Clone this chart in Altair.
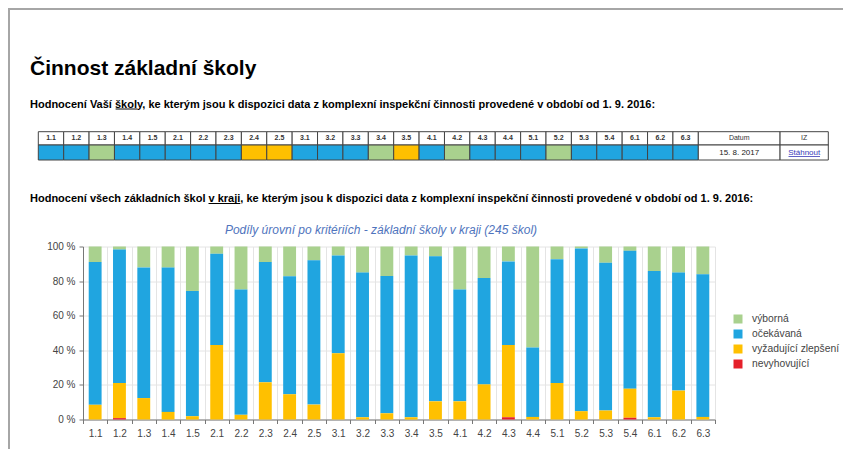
import altair as alt
import pandas as pd

# ---------------- data ----------------
criteria = ["1.1", "1.2", "1.3", "1.4", "1.5", "2.1", "2.2", "2.3", "2.4", "2.5",
            "3.1", "3.2", "3.3", "3.4", "3.5", "4.1", "4.2", "4.3", "4.4",
            "5.1", "5.2", "5.3", "5.4", "6.1", "6.2", "6.3"]
levels = ["výborná", "očekávaná", "vyžadující zlepšení", "nevyhovující"]
level_colors = ["#a9d18e", "#20a5e0", "#ffc000", "#e5202a"]
stack_rank = [3, 2, 1, 0]

school_rating = ["očekávaná", "očekávaná", "výborná", "očekávaná", "očekávaná",
                 "očekávaná", "očekávaná", "očekávaná", "vyžadující zlepšení", "vyžadující zlepšení",
                 "očekávaná", "očekávaná", "očekávaná", "výborná", "vyžadující zlepšení",
                 "očekávaná", "výborná", "očekávaná", "očekávaná",
                 "očekávaná", "výborná", "očekávaná", "očekávaná",
                 "očekávaná", "očekávaná", "očekávaná"]

pct_vyborna = [9.0, 1.8, 12.1, 12.2, 25.7, 4.2, 24.9, 9.0, 17.2, 8.0, 5.2, 15.1, 17.1,
               5.2, 5.7, 24.9, 18.2, 8.6, 58.4, 7.3, 1.1, 9.4, 2.5, 14.2, 15.1, 16.1]
pct_ocekavana = [82.5, 77.1, 75.5, 83.4, 72.4, 52.7, 72.4, 69.5, 68.2, 83.4, 56.5, 83.6, 79.3,
                 93.5, 83.8, 64.6, 61.5, 48.3, 40.1, 71.6, 94.1, 85.4, 79.7, 84.5, 68.2, 82.4]
pct_vyzadujici = [8.5, 20.3, 12.4, 4.4, 1.9, 43.1, 2.7, 21.5, 14.6, 8.6, 38.3, 1.3, 3.6,
                  1.3, 10.5, 10.5, 20.3, 41.8, 1.5, 21.1, 4.8, 5.2, 16.8, 1.3, 16.7, 1.5]
pct_nevyhovujici = [0, 0.8, 0, 0, 0, 0, 0, 0, 0, 0, 0, 0, 0,
                    0, 0, 0, 0, 1.3, 0, 0, 0, 0, 1.0, 0, 0, 0]

page_title = "Činnost základní školy"
school_heading = ("Hodnocení Vaší školy, ke kterým jsou k dispozici data z komplexní "
                  "inspekční činnosti provedené v období od 1. 9. 2016:")
region_heading = ("Hodnocení všech základních škol v kraji, ke kterým jsou k dispozici data "
                  "z komplexní inspekční činnosti provedené v období od 1. 9. 2016:")
chart_title = "Podíly úrovní po kritériích - základní školy v kraji (245 škol)"
date_label = "Datum"
date_value = "15. 8. 2017"
iz_label = "IZ"
iz_value = "Stáhnout"

# ---------------- layout helpers (page px -> view px) ----------------
def P(x):
    return x - 83


def Q(y):
    return y - 246.5


FONT = "Liberation Sans"
color_scale = alt.Scale(domain=levels, range=level_colors)

# ---------------- tables ----------------
series = [pct_vyborna, pct_ocekavana, pct_vyzadujici, pct_nevyhovujici]
bar_rows = []
for i, c in enumerate(criteria):
    for lvl, arr, rk in zip(levels, series, stack_rank):
        bar_rows.append({"criterion": c, "level": lvl, "value": arr[i], "rank": rk})
bar_df = pd.DataFrame(bar_rows)

DATUM_W = 3.22
IZ_W = 1.9
n = len(criteria)
crit_df = pd.DataFrame({
    "col": criteria,
    "level": school_rating,
    "x0": [i for i in range(n)],
    "x1": [i + 1 for i in range(n)],
})
crit_df["xm"] = (crit_df["x0"] + crit_df["x1"]) / 2
extra_df = pd.DataFrame({
    "col": [date_label, iz_label],
    "val": [date_value, iz_value],
    "x0": [n, n + DATUM_W],
    "x1": [n + DATUM_W, n + DATUM_W + IZ_W],
})
extra_df["xm"] = (extra_df["x0"] + extra_df["x1"]) / 2
TOTAL = n + DATUM_W + IZ_W
tscale = alt.Scale(domain=[0, TOTAL], range=[P(38.3), P(828.3)], nice=False, zero=False)

legend_df = pd.DataFrame({"level": levels})
one = pd.DataFrame({"d": [0]})


def text_layer(s, x, y, **kw):
    return alt.Chart(pd.DataFrame({"t": [s]})).mark_text(
        font=FONT, align="left", baseline="alphabetic", **kw
    ).encode(x=alt.value(x), y=alt.value(y), text="t:N")


# frame
frame_top = alt.Chart(one).mark_rule(color="#a6a6a6", strokeWidth=2).encode(
    x=alt.value(P(8)), x2=alt.value(P(851)), y=alt.value(Q(9)))
frame_left = alt.Chart(one).mark_rule(color="#a6a6a6", strokeWidth=2).encode(
    x=alt.value(P(9)), y=alt.value(Q(8)), y2=alt.value(Q(457)))

t_title = text_layer(page_title, P(30), Q(75), fontSize=21, fontWeight="bold", color="#000000")
t_school = text_layer(school_heading, P(30), Q(107.5), fontSize=11, fontWeight="bold", color="#000000")
t_region = text_layer(region_heading, P(30), Q(202), fontSize=11, fontWeight="bold", color="#000000")

ul_school = alt.Chart(one).mark_rule(color="#000000", strokeWidth=1).encode(
    x=alt.value(P(115.6)), x2=alt.value(P(137.6)), y=alt.value(Q(109)))
ul_region = alt.Chart(one).mark_rule(color="#000000", strokeWidth=1).encode(
    x=alt.value(P(208.5)), x2=alt.value(P(240.3)), y=alt.value(Q(203.5)))

# table
ROW0, ROW1, ROW2 = Q(131.7), Q(145), Q(160)
head_cells = alt.Chart(pd.concat([crit_df, extra_df])).mark_rect(
    fill="white", stroke="#444444", strokeWidth=1).encode(
    x=alt.X("x0:Q", scale=tscale, axis=None), x2="x1:Q",
    y=alt.value(ROW0), y2=alt.value(ROW1))
head_text_crit = alt.Chart(crit_df).mark_text(
    font=FONT, fontSize=7, fontWeight="bold", color="#333333", baseline="middle").encode(
    x=alt.X("xm:Q", scale=tscale, axis=None), y=alt.value((ROW0 + ROW1) / 2), text="col:N")
head_text_extra = alt.Chart(extra_df).mark_text(
    font=FONT, fontSize=7, color="#333333", baseline="middle").encode(
    x=alt.X("xm:Q", scale=tscale, axis=None), y=alt.value((ROW0 + ROW1) / 2), text="col:N")
data_cells = alt.Chart(crit_df).mark_rect(stroke="#444444", strokeWidth=1).encode(
    x=alt.X("x0:Q", scale=tscale, axis=None), x2="x1:Q",
    y=alt.value(ROW1), y2=alt.value(ROW2),
    color=alt.Color("level:N", scale=color_scale, legend=None))
data_cells_extra = alt.Chart(extra_df).mark_rect(
    fill="white", stroke="#444444", strokeWidth=1).encode(
    x=alt.X("x0:Q", scale=tscale, axis=None), x2="x1:Q",
    y=alt.value(ROW1), y2=alt.value(ROW2))
date_text = alt.Chart(extra_df.iloc[[0]]).mark_text(
    font=FONT, fontSize=8, color="#222222", baseline="middle").encode(
    x=alt.X("xm:Q", scale=tscale, axis=None), y=alt.value((ROW1 + ROW2) / 2), text="val:N")
iz_text = alt.Chart(extra_df.iloc[[1]]).mark_text(
    font=FONT, fontSize=8, color="#3a3ab8", baseline="middle").encode(
    x=alt.X("xm:Q", scale=tscale, axis=None), y=alt.value((ROW1 + ROW2) / 2), text="val:N")
iz_ul = alt.Chart(one).mark_rule(color="#3a3ab8", strokeWidth=0.8).encode(
    x=alt.value(P(788.5)), x2=alt.value(P(820)), y=alt.value(Q(156.5)))

# bar chart
bars = alt.Chart(bar_df).mark_bar(width=alt.RelativeBandSize(0.53)).encode(
    x=alt.X("criterion:N", sort=criteria,
            scale=alt.Scale(domain=criteria, paddingInner=0, paddingOuter=0),
            axis=alt.Axis(title=None, labelAngle=0, tickBand="extent", grid=True,
                          gridColor="#e4e4e4", domainColor="#777777", tickColor="#777777",
                          tickSize=4, labelFontSize=10, labelColor="#444444",
                          labelPadding=5, labelFont=FONT)),
    y=alt.Y("value:Q", stack="normalize",
            scale=alt.Scale(domain=[0, 1], nice=False),
            axis=alt.Axis(title=None, values=[0, 0.2, 0.4, 0.6, 0.8, 1.0],
                          labelExpr="round(datum.value * 100) + ' %'",
                          grid=True, gridColor="#e4e4e4", domainColor="#777777",
                          tickColor="#777777", tickSize=4, labelFontSize=10,
                          labelColor="#444444", labelPadding=4, labelFont=FONT)),
    color=alt.Color("level:N", scale=color_scale, legend=None),
    order=alt.Order("rank:Q", sort="ascending"),
)

# legend (drawn from the levels list)
leg_scale = alt.Scale(domain=levels, range=[Q(319), Q(364)], padding=0)
leg_sq = alt.Chart(legend_df).mark_square(size=81, opacity=1).encode(
    x=alt.value(P(738)),
    y=alt.Y("level:N", scale=leg_scale, axis=None, sort=levels),
    color=alt.Color("level:N", scale=color_scale, legend=None))
leg_txt = alt.Chart(legend_df).mark_text(
    font=FONT, fontSize=10.3, color="#444444", align="left", baseline="middle").encode(
    x=alt.value(P(752)),
    y=alt.Y("level:N", scale=leg_scale, axis=None, sort=levels),
    text="level:N")

t_chart = alt.Chart(pd.DataFrame({"t": [chart_title]})).mark_text(
    font=FONT, fontSize=12, fontStyle="italic", color="#4f74bd", align="center",
    baseline="alphabetic").encode(x=alt.value(P(381)), y=alt.value(Q(234)), text="t:N")

chart = alt.layer(
    frame_top, frame_left, t_title, t_school, t_region, ul_school, ul_region,
    head_cells, head_text_crit, head_text_extra, data_cells, data_cells_extra,
    date_text, iz_text, iz_ul, bars, leg_sq, leg_txt, t_chart,
).resolve_scale(x="independent", y="independent").properties(
    width=632, height=173,
    padding={"left": 75, "top": 238.5, "right": 128, "bottom": 29.5},
    autosize=alt.AutoSizeParams(type="none"),
).configure_view(stroke=None)

chart.save("out.html", embed_options={"renderer": "svg", "actions": False})
